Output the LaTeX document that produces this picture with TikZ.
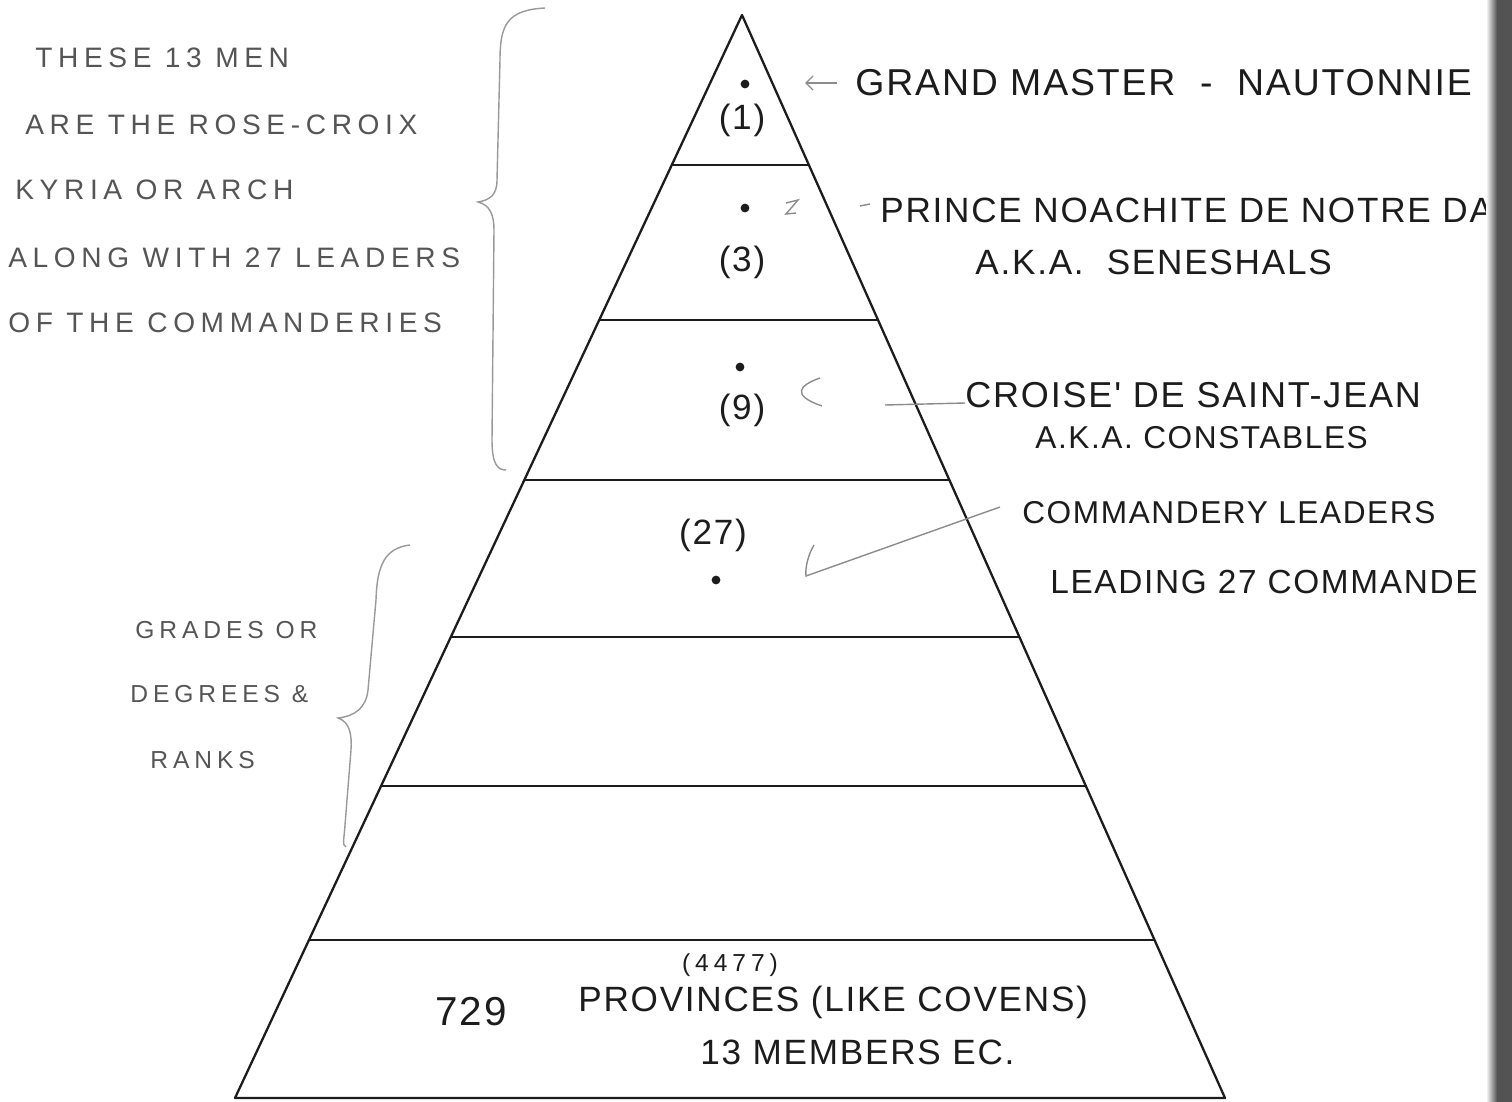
\documentclass[tikz,border=0pt]{standalone}
\usepackage{fontspec}
\setmainfont{Liberation Sans}
\newfontfamily\sidefont[LetterSpace=20]{Liberation Sans}
\newfontfamily\labfont[LetterSpace=5]{Liberation Sans}
\usetikzlibrary{calc, positioning, arrows.meta}
\definecolor{Inkcolor}{RGB}{28,28,28}
\definecolor{Pencolor}{RGB}{85,85,85}

\begin{document}
\begin{tikzpicture}[x=0.02cm, y=-0.02cm,
  tier/.style={line width=1.3pt, color=Inkcolor, line join=round},
  labtxt/.style={anchor=west, inner sep=0pt, text=Inkcolor,
                 font=\labfont\fontsize{20}{24}\selectfont},
  sidetxt/.style={anchor=west, inner sep=0pt, text=Pencolor,
                  font=\sidefont\fontsize{16}{19}\selectfont},
  numtxt/.style={inner sep=0pt, text=Inkcolor,
                 font=\labfont\fontsize{20}{24}\selectfont},
  dotmark/.style={circle, fill=Inkcolor, inner sep=0pt, minimum size=5pt},
  brc/.style={draw=gray!80, line width=0.8pt},
  lead/.style={draw=gray!90, line width=0.8pt}
]
\useasboundingbox (0,0) rectangle (1512,1102);

%% Pyramide
\coordinate (apex) at (742,15);
\coordinate (bl) at (235,1098);
\coordinate (br) at (1225,1098);
\draw[tier] (apex) -- (bl) -- (br) -- cycle;
\foreach \ty in {165,320,480,637,786,940} {
  \pgfmathsetmacro\lvl{(\ty-15)/1083}
  \draw[tier] ($(apex)!\lvl!(bl)$) -- ($(apex)!\lvl!(br)$);
}

%% Puntos y cifras
\node[dotmark] (d1) at (745,84) {};
\node[dotmark] (d3) at (745,208) {};
\node[dotmark] (d9) at (740,367) {};
\node[dotmark] (d27) at (716,580) {};
\node[numtxt] (n1) at (742,120) {(1)};
\node[numtxt] (n3) at (742,262) {(3)};
\node[numtxt] (n9) at (742,410) {(9)};
\node[numtxt] (n27) at (713,535) {(27)};

%% Etiquetas derechas
\node[labtxt, font=\labfont\fontsize{21.3}{26}\selectfont] (gm) at (855,83) {GRAND MASTER \ - \ NAUTONNIE};
\node[labtxt] (pn) at (880,210) {PRINCE NOACHITE DE NOTRE DA};
\node[labtxt] (sen) at (975,262) {A.K.A.\ \ SENESHALS};
\node[labtxt, font=\labfont\fontsize{20.5}{24}\selectfont] (cr) at (965,395) {CROISE' DE SAINT-JEAN};
\node[labtxt, font=\labfont\fontsize{18}{22}\selectfont] (con) at (1035,438) {A.K.A. CONSTABLES};
\node[labtxt, font=\labfont\fontsize{18}{22}\selectfont] (cmdr) at (1022,513) {COMMANDERY LEADERS};
\node[labtxt, font=\labfont\fontsize{19}{23}\selectfont] (lead27) at (1050,582) {LEADING 27 COMMANDE};

%% Base
\node[sidetxt, anchor=center, text=Inkcolor, font=\sidefont\fontsize{14}{17}\selectfont] (tot) at (730,965) {(4477)};
\node[labtxt, font=\labfont\fontsize{23}{27}\selectfont] (prv729) at (435,1012) {729};
\node[labtxt] (prv) at (578,1002) {PROVINCES (LIKE COVENS)};
\node[labtxt] (mem) at (700,1052) {13 MEMBERS EC.};

%% Notas izquierdas
\node[sidetxt] (t1) at (35,58) {THESE 13 MEN};
\node[sidetxt] (t2) at (25,125) {ARE THE ROSE-CROIX};
\node[sidetxt] (t3) at (15,190) {KYRIA OR ARCH};
\node[sidetxt] (t4) at (8,258) {ALONG WITH 27 LEADERS};
\node[sidetxt] (t5) at (8,323) {OF THE COMMANDERIES};
\node[sidetxt, font=\sidefont\fontsize{14}{17}\selectfont] (g1) at (135,630) {GRADES OR};
\node[sidetxt, font=\sidefont\fontsize{14}{17}\selectfont] (g2) at (130,694) {DEGREES \&};
\node[sidetxt, font=\sidefont\fontsize{14}{17}\selectfont] (g3) at (150,760) {RANKS};

%% Llaves
\draw[brc] (545,8) .. controls (507,10) and (500,25) .. (500,60)
  -- (497,180) .. controls (497,195) and (490,200) .. (478,202)
  .. controls (490,205) and (494,215) .. (494,230)
  -- (492,440) .. controls (492,465) and (498,470) .. (506,470);
\draw[brc] (410,545) .. controls (385,548) and (377,565) .. (376,600)
  -- (368,690) .. controls (366,708) and (355,716) .. (338,718)
  .. controls (350,722) and (352,735) .. (351,750)
  -- (345,825) .. controls (344,840) and (342,845) .. (346,847);

%% Marcas y guias
\draw[lead, -{Straight Barb[length=4pt]}] ($(gm.west)+(-18,0)$) -- ($(gm.west)+(-50,0)$);
\draw[lead] (786,203) -- (798,200) -- (786,214) -- (796,213);
\draw[lead] ($(pn.west)+(-20,-4)$) -- ($(pn.west)+(-10,-6)$);
\draw[lead] (820,378) .. controls (800,385) and (790,395) .. (822,406);
\draw[lead] (885,405) -- ($(cr.west)+(0,8)$);
\draw[lead] (814,545) .. controls (808,555) and (805,568) .. (806,576)
  -- ($(cmdr.west)+(-22,-6)$);

%% Lomo
\shade[left color=white, right color=gray!65!black] (1486,0) rectangle (1497,1102);
\fill[gray!65!black] (1497,0) rectangle (1512,1102);
\end{tikzpicture}
\end{document}
